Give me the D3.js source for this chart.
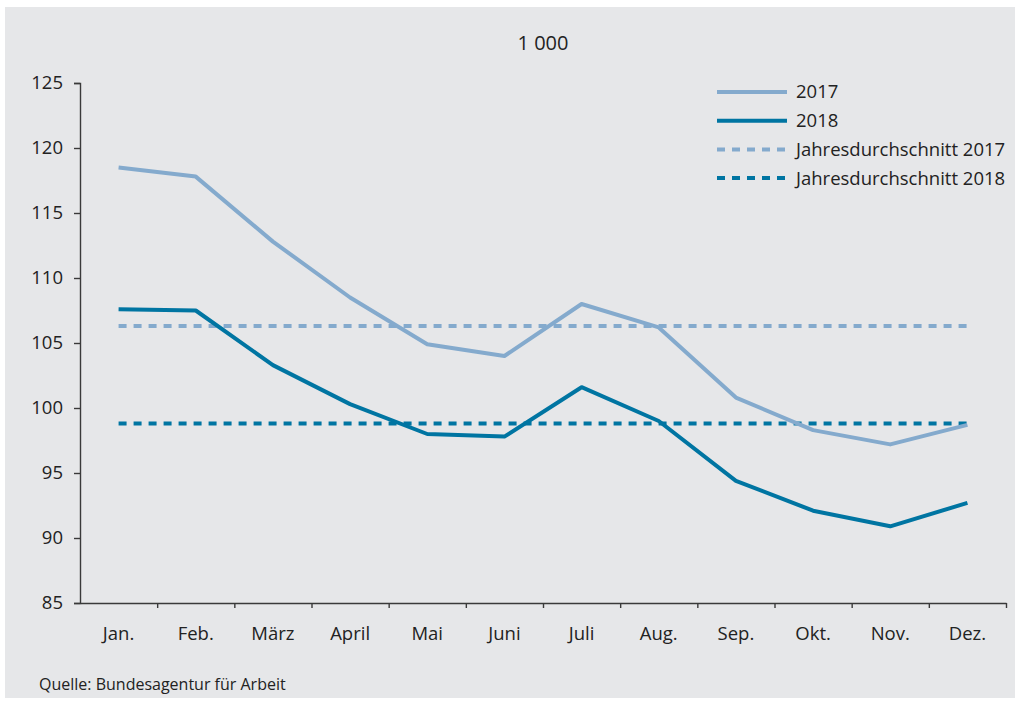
<!DOCTYPE html>
<html>
<head>
<meta charset="utf-8">
<script src="https://cdn.jsdelivr.net/npm/d3@7"></script>
<style>
  body { margin: 0; background: #fff; }
  svg text { font-family: "Open Sans", "Noto Sans", sans-serif; fill: #222; }
</style>
</head>
<body>
<svg id="chart" width="1020" height="709"></svg>
<script>
// month labels
var months = ["Jan.", "Feb.", "März", "April", "Mai", "Juni", "Juli", "Aug.", "Sep.", "Okt.", "Nov.", "Dez."];

// values in 1 000
var values2017 = [118.5, 117.8, 112.8, 108.5, 104.9, 104.0, 108.0, 106.2, 100.8, 98.3, 97.2, 98.7];
var values2018 = [107.6, 107.5, 103.3, 100.3, 98.0, 97.8, 101.6, 99.0, 94.4, 92.1, 90.9, 92.7];

// yearly averages
var avg2017 = [106.3];
var avg2018 = [98.8];

var yTicks = [85, 90, 95, 100, 105, 110, 115, 120, 125];

var legendItems = [
  {label: "2017", color: "#84aacd", dash: null},
  {label: "2018", color: "#0075a2", dash: null},
  {label: "Jahresdurchschnitt 2017", color: "#84aacd", dash: "8,7"},
  {label: "Jahresdurchschnitt 2018", color: "#0075a2", dash: "8,7"}
];

var svg = d3.select("#chart");

// grey panel
svg.append("rect")
  .attr("x", 5).attr("y", 7)
  .attr("width", 1010).attr("height", 691)
  .attr("fill", "#e6e7e9");

// plot area (window.top is taken, so keep these in an object)
var plot = {left: 80, right: 1006, top: 83, bottom: 603};

var x = d3.scaleBand().domain(months).range([plot.left, plot.right]);
var xTick = d3.scaleLinear().domain([0, 12]).range([plot.left, plot.right]);
var y = d3.scaleLinear().domain([85, 125]).range([plot.bottom, plot.top]);

// y axis
var yAxis = svg.append("g")
  .attr("transform", "translate(" + plot.left + ",0)")
  .call(d3.axisLeft(y).tickValues(yTicks).tickSize(6).tickSizeOuter(6).tickPadding(11));
yAxis.selectAll("path, line").attr("stroke", "#3a3a3a").attr("stroke-width", 1.4);
yAxis.selectAll("text").attr("font-size", 18.5).attr("font-family", null).attr("fill", "#222");

// x axis: ticks at month borders, labels at centers
var xAxis = svg.append("g")
  .attr("transform", "translate(0," + plot.bottom + ")")
  .call(d3.axisBottom(xTick).tickValues(d3.range(1, 13)).tickSize(5).tickSizeOuter(0).tickFormat(""));
xAxis.selectAll("path, line").attr("stroke", "#3a3a3a").attr("stroke-width", 1.4);

var xLabels = svg.append("g")
  .attr("transform", "translate(0," + plot.bottom + ")")
  .call(d3.axisBottom(x).tickSize(0).tickPadding(24));
xLabels.select(".domain").remove();
xLabels.selectAll("text").attr("font-size", 18.5).attr("font-family", null).attr("fill", "#222");

// average lines
function avgLine(v, color) {
  svg.append("line")
    .attr("x1", x(months[0]) + x.bandwidth() / 2)
    .attr("x2", x(months[11]) + x.bandwidth() / 2)
    .attr("y1", y(v)).attr("y2", y(v))
    .attr("stroke", color)
    .attr("stroke-width", 4)
    .attr("stroke-dasharray", "8,7");
}
avgLine(avg2017[0], "#84aacd");
avgLine(avg2018[0], "#0075a2");

// series lines
var line = d3.line()
  .x(function(d, i) { return x(months[i]) + x.bandwidth() / 2; })
  .y(function(d) { return y(d); });

svg.append("path").datum(values2017)
  .attr("d", line).attr("fill", "none")
  .attr("stroke", "#84aacd").attr("stroke-width", 4).attr("stroke-linejoin", "round");
svg.append("path").datum(values2018)
  .attr("d", line).attr("fill", "none")
  .attr("stroke", "#0075a2").attr("stroke-width", 4).attr("stroke-linejoin", "round");

// title
svg.append("text")
  .attr("x", 543).attr("y", 50)
  .attr("text-anchor", "middle")
  .attr("font-size", 20)
  .text("1 000");

// legend
var legend = svg.append("g").attr("transform", "translate(717,92)");
legendItems.forEach(function(d, i) {
  var g = legend.append("g").attr("transform", "translate(0," + (i * 28.7) + ")");
  g.append("line")
    .attr("x1", 0).attr("x2", 70)
    .attr("stroke", d.color).attr("stroke-width", 4)
    .attr("stroke-dasharray", d.dash);
  g.append("text")
    .attr("x", 79).attr("dy", "0.35em")
    .attr("font-size", 18.5)
    .text(d.label);
});

// source
svg.append("text")
  .attr("x", 39).attr("y", 690)
  .attr("font-size", 16)
  .text("Quelle: Bundesagentur für Arbeit");
</script>
</body>
</html>
